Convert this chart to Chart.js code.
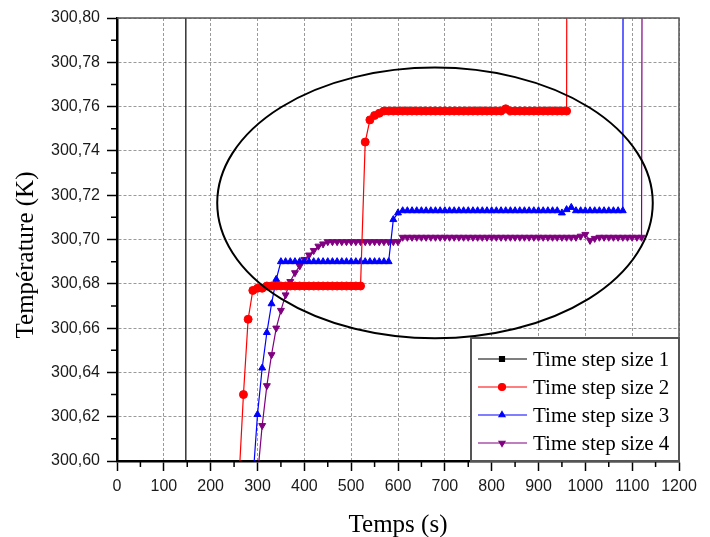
<!DOCTYPE html>
<html>
<head>
<meta charset="utf-8">
<script src="https://cdn.jsdelivr.net/npm/chart.js@4.4.1/dist/chart.umd.min.js"></script>
<style>
  html, body { margin: 0; padding: 0; background: #fff; }
  #graphe { display: block; }
</style>
</head>
<body>
<canvas id="graphe" width="710" height="537"></canvas>
<script>
/* Températures (K) en fonction du temps (s) pour 4 pas de temps */
const tempsPas1 = [147, 147];
const tempPas1 = [300.50, 300.90];

const tempsPas2 = [
  260, 270, 280, 290, 300, 310, 320, 330, 340, 350, 360, 370, 380, 390, 400, 410, 420, 430, 440, 450,
  460, 470, 480, 490, 500, 510, 520, 530, 540, 550, 560, 570, 580, 590, 600, 610, 620, 630, 640, 650,
  660, 670, 680, 690, 700, 710, 720, 730, 740, 750, 760, 770, 780, 790, 800, 810, 820, 830, 840, 850,
  860, 870, 880, 890, 900, 910, 920, 930, 940, 950, 960, 961
];
const tempPas2 = [
  300.590, 300.630, 300.664, 300.677, 300.678, 300.678, 300.679, 300.679, 300.679, 300.679,
  300.679, 300.679, 300.679, 300.679, 300.679, 300.679, 300.679, 300.679, 300.679, 300.679,
  300.679, 300.679, 300.679, 300.679, 300.679, 300.679, 300.679, 300.744, 300.754, 300.756,
  300.757, 300.758, 300.758, 300.758, 300.758, 300.758, 300.758, 300.758, 300.758, 300.758,
  300.758, 300.758, 300.758, 300.758, 300.758, 300.758, 300.758, 300.758, 300.758, 300.758,
  300.758, 300.758, 300.758, 300.758, 300.758, 300.758, 300.758, 300.759, 300.758, 300.758,
  300.758, 300.758, 300.758, 300.758, 300.758, 300.758, 300.758, 300.758, 300.758, 300.758,
  300.758, 300.900
];

const tempsPas3 = [
  290, 300, 310, 320, 330, 340, 350, 360, 370, 380, 390, 400, 410, 420, 430, 440, 450, 460, 470, 480,
  490, 500, 510, 520, 530, 540, 550, 560, 570, 580, 590, 600, 610, 620, 630, 640, 650, 660, 670, 680,
  690, 700, 710, 720, 730, 740, 750, 760, 770, 780, 790, 800, 810, 820, 830, 840, 850, 860, 870, 880,
  890, 900, 910, 920, 930, 940, 950, 960, 970, 980, 990, 1000, 1010, 1020, 1030, 1040, 1050, 1060, 1070, 1080,
  1081
];
const tempPas3 = [
  300.591, 300.621, 300.642, 300.658, 300.671, 300.682, 300.690, 300.690, 300.690, 300.690,
  300.690, 300.690, 300.690, 300.690, 300.690, 300.690, 300.690, 300.690, 300.690, 300.690,
  300.690, 300.690, 300.690, 300.690, 300.690, 300.690, 300.690, 300.690, 300.690, 300.690,
  300.709, 300.712, 300.713, 300.713, 300.713, 300.713, 300.713, 300.713, 300.713, 300.713,
  300.713, 300.713, 300.713, 300.713, 300.713, 300.713, 300.713, 300.713, 300.713, 300.713,
  300.713, 300.713, 300.713, 300.713, 300.713, 300.713, 300.713, 300.713, 300.713, 300.713,
  300.713, 300.713, 300.713, 300.713, 300.713, 300.713, 300.712, 300.7135, 300.7145, 300.713,
  300.713, 300.713, 300.713, 300.713, 300.713, 300.713, 300.713, 300.713, 300.713, 300.713,
  300.900
];

const tempsPas4 = [
  300, 310, 320, 330, 340, 350, 360, 370, 380, 390, 400, 410, 420, 430, 440, 450, 460, 470, 480, 490,
  500, 510, 520, 530, 540, 550, 560, 570, 580, 590, 600, 610, 620, 630, 640, 650, 660, 670, 680, 690,
  700, 710, 720, 730, 740, 750, 760, 770, 780, 790, 800, 810, 820, 830, 840, 850, 860, 870, 880, 890,
  900, 910, 920, 930, 940, 950, 960, 970, 980, 990, 1000, 1010, 1020, 1030, 1040, 1050, 1060, 1070, 1080, 1090,
  1100, 1110, 1120, 1122
];
const tempPas4 = [
  300.593, 300.616, 300.634, 300.648, 300.660, 300.668, 300.675, 300.681, 300.685, 300.688,
  300.691, 300.693, 300.695, 300.697, 300.698, 300.699, 300.699, 300.699, 300.699, 300.699,
  300.699, 300.699, 300.699, 300.699, 300.699, 300.699, 300.699, 300.699, 300.699, 300.699,
  300.699, 300.701, 300.701, 300.701, 300.701, 300.701, 300.701, 300.701, 300.701, 300.701,
  300.701, 300.701, 300.701, 300.701, 300.701, 300.701, 300.701, 300.701, 300.701, 300.701,
  300.701, 300.701, 300.701, 300.701, 300.701, 300.701, 300.701, 300.701, 300.701, 300.701,
  300.701, 300.701, 300.701, 300.701, 300.701, 300.701, 300.701, 300.701, 300.701, 300.7015,
  300.7023, 300.6996, 300.7005, 300.701, 300.701, 300.701, 300.701, 300.701, 300.701, 300.701,
  300.701, 300.701, 300.701, 300.900
];

const nomsSeries = ["Time step size 1", "Time step size 2", "Time step size 3", "Time step size 4"];

// ellipse qui entoure la zone des paliers (centre et demi-axes en unités des axes)
const ELLIPSE = { x: 679, y: 300.7165, rx: 465, ry: 0.0611 };

function serie(label, temps, valeurs, couleur, forme, rotation, rayon) {
  return {
    label,
    data: temps.map((t, i) => ({ x: t, y: valeurs[i] })),
    borderColor: couleur,
    backgroundColor: couleur,
    borderWidth: 1.2,
    pointStyle: forme,
    pointRotation: rotation,
    pointRadius: rayon,
    pointHoverRadius: rayon,
    pointBorderWidth: 1,
    tension: 0
  };
}

const datasets = [
  serie(nomsSeries[0], tempsPas1, tempPas1, "#000000", "rect", 0, 3.5),
  serie(nomsSeries[1], tempsPas2, tempPas2, "#ff0000", "circle", 0, 4),
  serie(nomsSeries[2], tempsPas3, tempPas3, "#0000ff", "triangle", 0, 4),
  serie(nomsSeries[3], tempsPas4, tempPas4, "#800080", "triangle", 180, 4)
];

/* ellipse, cadre, petites graduations, légende et titres des axes */
const decor = {
  id: "decor",
  afterDraw(chart) {
    const { ctx, chartArea: a, scales: { x, y } } = chart;
    ctx.save();

    // ellipse
    const cx = x.getPixelForValue(ELLIPSE.x);
    const cy = y.getPixelForValue(ELLIPSE.y);
    const rx = x.getPixelForValue(ELLIPSE.x + ELLIPSE.rx) - cx;
    const ry = cy - y.getPixelForValue(ELLIPSE.y + ELLIPSE.ry);
    ctx.beginPath();
    ctx.ellipse(cx, cy, rx, ry, 0, 0, 2 * Math.PI);
    ctx.lineWidth = 2;
    ctx.strokeStyle = "#000";
    ctx.stroke();

    // cadre haut / droite
    ctx.beginPath();
    ctx.moveTo(a.left, a.top);
    ctx.lineTo(a.right, a.top);
    ctx.lineTo(a.right, a.bottom);
    ctx.lineWidth = 1.5;
    ctx.strokeStyle = "#555";
    ctx.stroke();

    // graduations secondaires
    ctx.beginPath();
    ctx.lineWidth = 1.5;
    ctx.strokeStyle = "#000";
    for (let i = 0; i < x.ticks.length - 1; i++) {
      const px = x.getPixelForValue((x.ticks[i].value + x.ticks[i + 1].value) / 2);
      ctx.moveTo(px, a.bottom);
      ctx.lineTo(px, a.bottom + 6);
    }
    for (let i = 0; i < y.ticks.length - 1; i++) {
      const py = y.getPixelForValue((y.ticks[i].value + y.ticks[i + 1].value) / 2);
      ctx.moveTo(a.left, py);
      ctx.lineTo(a.left - 6, py);
    }
    ctx.stroke();

    // légende
    const lx = a.right - 208, ly = a.bottom - 123;
    ctx.fillStyle = "#fff";
    ctx.fillRect(lx, ly, 208, 123);
    ctx.lineWidth = 2;
    ctx.strokeStyle = "#555";
    ctx.strokeRect(lx, ly, 208, 123);
    ctx.font = "21px 'Liberation Serif', 'Times New Roman', serif";
    ctx.textBaseline = "middle";
    chart.data.datasets.forEach((ds, i) => {
      const ry2 = ly + 21 + i * 28;
      ctx.beginPath();
      ctx.moveTo(lx + 7, ry2);
      ctx.lineTo(lx + 56, ry2);
      ctx.lineWidth = 1.2;
      ctx.strokeStyle = ds.borderColor;
      ctx.stroke();
      ctx.fillStyle = ds.backgroundColor;
      Chart.helpers.drawPoint(ctx, {
        pointStyle: ds.pointStyle, rotation: ds.pointRotation,
        radius: Math.min(ds.pointRadius, 3.5), borderWidth: 1
      }, lx + 31, ry2);
      ctx.fillStyle = "#000";
      ctx.textAlign = "left";
      ctx.fillText(ds.label, lx + 62, ry2 + 1);
    });

    // titres des axes
    ctx.fillStyle = "#000";
    ctx.font = "25px 'Liberation Serif', 'Times New Roman', serif";
    ctx.textAlign = "center";
    ctx.textBaseline = "middle";
    ctx.fillText("Temps (s)", (a.left + a.right) / 2, 525);
    ctx.translate(26, 255);
    ctx.rotate(-Math.PI / 2);
    ctx.fillText("Température (K)", 0, 0);

    ctx.restore();
  }
};

const policeTicks = { family: "'Liberation Sans', Arial, sans-serif", size: 16 };

new Chart(document.getElementById("graphe"), {
  type: "line",
  data: { datasets },
  options: {
    responsive: false,
    animation: false,
    events: [],
    layout: { padding: { left: 0, top: 18, right: 31, bottom: 0 } },
    plugins: { legend: { display: false }, tooltip: { enabled: false } },
    scales: {
      x: {
        type: "linear",
        min: 0,
        max: 1200,
        ticks: {
          stepSize: 100, autoSkip: false, maxRotation: 0, padding: 6, color: "#1a1a1a", font: policeTicks,
          callback: v => String(v)
        },
        grid: { color: "#9a9a9a", lineWidth: 1, tickLength: 10, tickColor: "#000", tickWidth: 1.5 },
        border: { color: "#000", width: 2.5, dash: [3, 2] },
        afterFit(s) { s.height = 76; s.paddingLeft = 0; s.paddingRight = 0; }
      },
      y: {
        min: 300.6,
        max: 300.8,
        ticks: {
          stepSize: 0.02, padding: 7, color: "#1a1a1a", font: policeTicks,
          callback: v => v.toFixed(2).replace(".", ",")
        },
        grid: { color: "#9a9a9a", lineWidth: 1, tickLength: 10, tickColor: "#000", tickWidth: 1.5 },
        border: { color: "#000", width: 2.5, dash: [3, 2] },
        afterFit(s) { s.width = 117; s.paddingTop = 0; s.paddingBottom = 0; }
      }
    }
  },
  plugins: [decor]
});
</script>
</body>
</html>
